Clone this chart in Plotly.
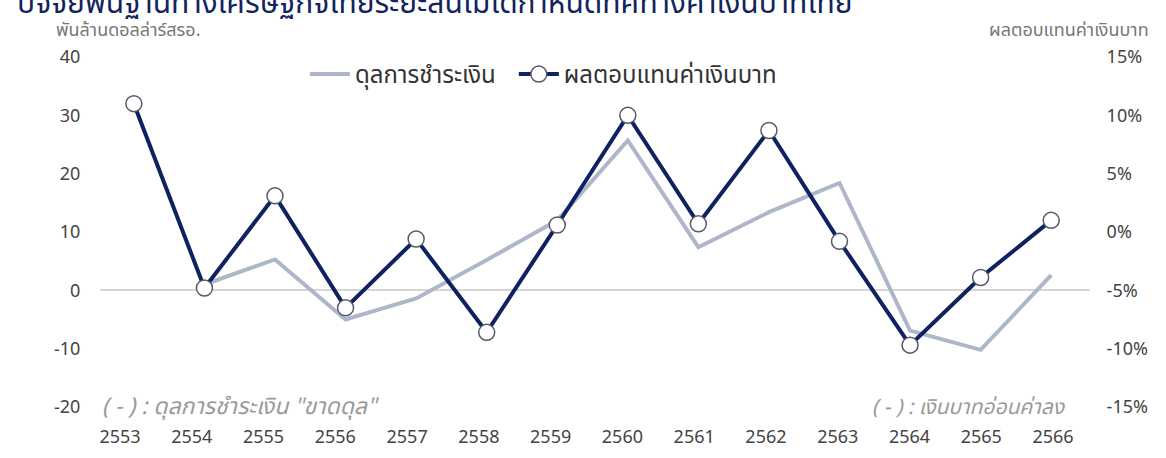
import plotly.graph_objects as go

years = ["2553", "2554", "2555", "2556", "2557", "2558", "2559",
         "2560", "2561", "2562", "2563", "2564", "2565", "2566"]
# ดุลการชำระเงิน (พันล้านดอลล่าร์สรอ.) - left axis
bop = [None, 1.0, 5.3, -5.0, -1.4, 5.2, 12.0, 25.7, 7.4, 13.4, 18.4, -6.9, -10.2, 2.6]
# ผลตอบแทนค่าเงินบาท (%) - right axis
thb_return = [11.0, -4.8, 3.1, -6.5, -0.6, -8.6, 0.6, 10.0, 0.7, 8.7, -0.8, -9.7, -3.9, 1.0]

left_ticks = [-20, -10, 0, 10, 20, 30, 40]
right_ticks = [-15, -10, -5, 0, 5, 10, 15]
right_labels = [f"{v}%" for v in right_ticks]

FONT = "Noto Sans Thai, Noto Sans, Lato, sans-serif"
NAVY = "#0f2260"
GRAY = "#aeb7c9"

idx = list(range(len(years)))

fig = go.Figure()
fig.add_trace(go.Scatter(
    x=idx, y=bop, name="ดุลการชำระเงิน", mode="lines",
    line=dict(color=GRAY, width=4), yaxis="y", connectgaps=False, legend="legend",
))
fig.add_trace(go.Scatter(
    x=idx, y=thb_return, name="ผลตอบแทนค่าเงินบาท", mode="lines+markers",
    line=dict(color=NAVY, width=4),
    marker=dict(size=16, color="white", line=dict(color="#555a66", width=1.5)),
    yaxis="y2", legend="legend2",
))
# invisible carrier for the year-label axis
fig.add_trace(go.Scatter(x=idx, y=[None] * len(idx), xaxis="x2", yaxis="y",
                         showlegend=False, hoverinfo="skip", mode="lines"))

legend_common = dict(orientation="h", xanchor="left", y=0.95, yanchor="middle",
                     font=dict(size=24, color="#333"), bgcolor="rgba(0,0,0,0)",
                     itemwidth=40)

fig.update_layout(
    width=1166, height=458,
    margin=dict(l=100, r=76, t=57, b=51, autoexpand=False),
    paper_bgcolor="white", plot_bgcolor="white",
    font=dict(family=FONT, color="#444"),
    showlegend=True,
    legend=dict(x=0.207, **legend_common),
    legend2=dict(x=0.418, **legend_common),
    xaxis=dict(range=[-0.48, 13.55], showgrid=False, showline=False, automargin=False,
               zeroline=False, showticklabels=False, ticks=""),
    xaxis2=dict(range=[-0.279, 13.515], overlaying="x", side="bottom", anchor="y",
                tickvals=idx, ticktext=years, showgrid=False, showline=False,
                zeroline=False, automargin=False,
                ticks="outside", ticklen=13, tickcolor="rgba(0,0,0,0)",
                tickfont=dict(size=18, color="#444")),
    yaxis=dict(range=[-20, 40], tickvals=left_ticks, showgrid=False, showline=False,
               zeroline=True, zerolinecolor="#d6d6d6", zerolinewidth=1.5, automargin=False,
               ticks="outside", ticklen=15, tickcolor="rgba(0,0,0,0)",
               tickfont=dict(size=18, color="#444")),
    yaxis2=dict(range=[-15, 15], tickvals=right_ticks, ticktext=right_labels,
                overlaying="y", side="right", showgrid=False, showline=False,
                zeroline=False, automargin=False, ticks="outside", ticklen=12,
                tickcolor="rgba(0,0,0,0)", tickfont=dict(size=18, color="#444")),
)

annotations = [
    dict(text="ปัจจัยพื้นฐานทางเศรษฐกิจไทยระยะสั้นไม่ได้กำหนดทิศทางค่าเงินบาทไทย",
         xref="paper", yref="paper", x=-0.086, xanchor="left", y=1.08, yanchor="bottom",
         font=dict(size=30, color="#13235e"), showarrow=False),
    dict(text="พันล้านดอลล่าร์สรอ.", xref="paper", yref="paper", x=-0.046, xanchor="left",
         y=1.075, yanchor="middle", font=dict(size=18, color="#777"), showarrow=False),
    dict(text="ผลตอบแทนค่าเงินบาท", xref="paper", yref="paper", x=1.062, xanchor="right",
         y=1.075, yanchor="middle", font=dict(size=18, color="#777"), showarrow=False),
    dict(text="<i>( - ) : ดุลการชำระเงิน \"ขาดดุล\"</i>", xref="paper", yref="paper",
         x=0.0, xanchor="left", y=0.0, yanchor="middle",
         font=dict(size=23, color="#9a9a9a"), showarrow=False),
    dict(text="<i>( - ) : เงินบาทอ่อนค่าลง</i>", xref="paper", yref="paper",
         x=0.978, xanchor="right", y=0.0, yanchor="middle",
         font=dict(size=21, color="#9a9a9a"), showarrow=False),
]
fig.update_layout(annotations=annotations)

fig.write_html("out.html", config={"displayModeBar": False},
               post_script="document.body.style.margin='0';")
